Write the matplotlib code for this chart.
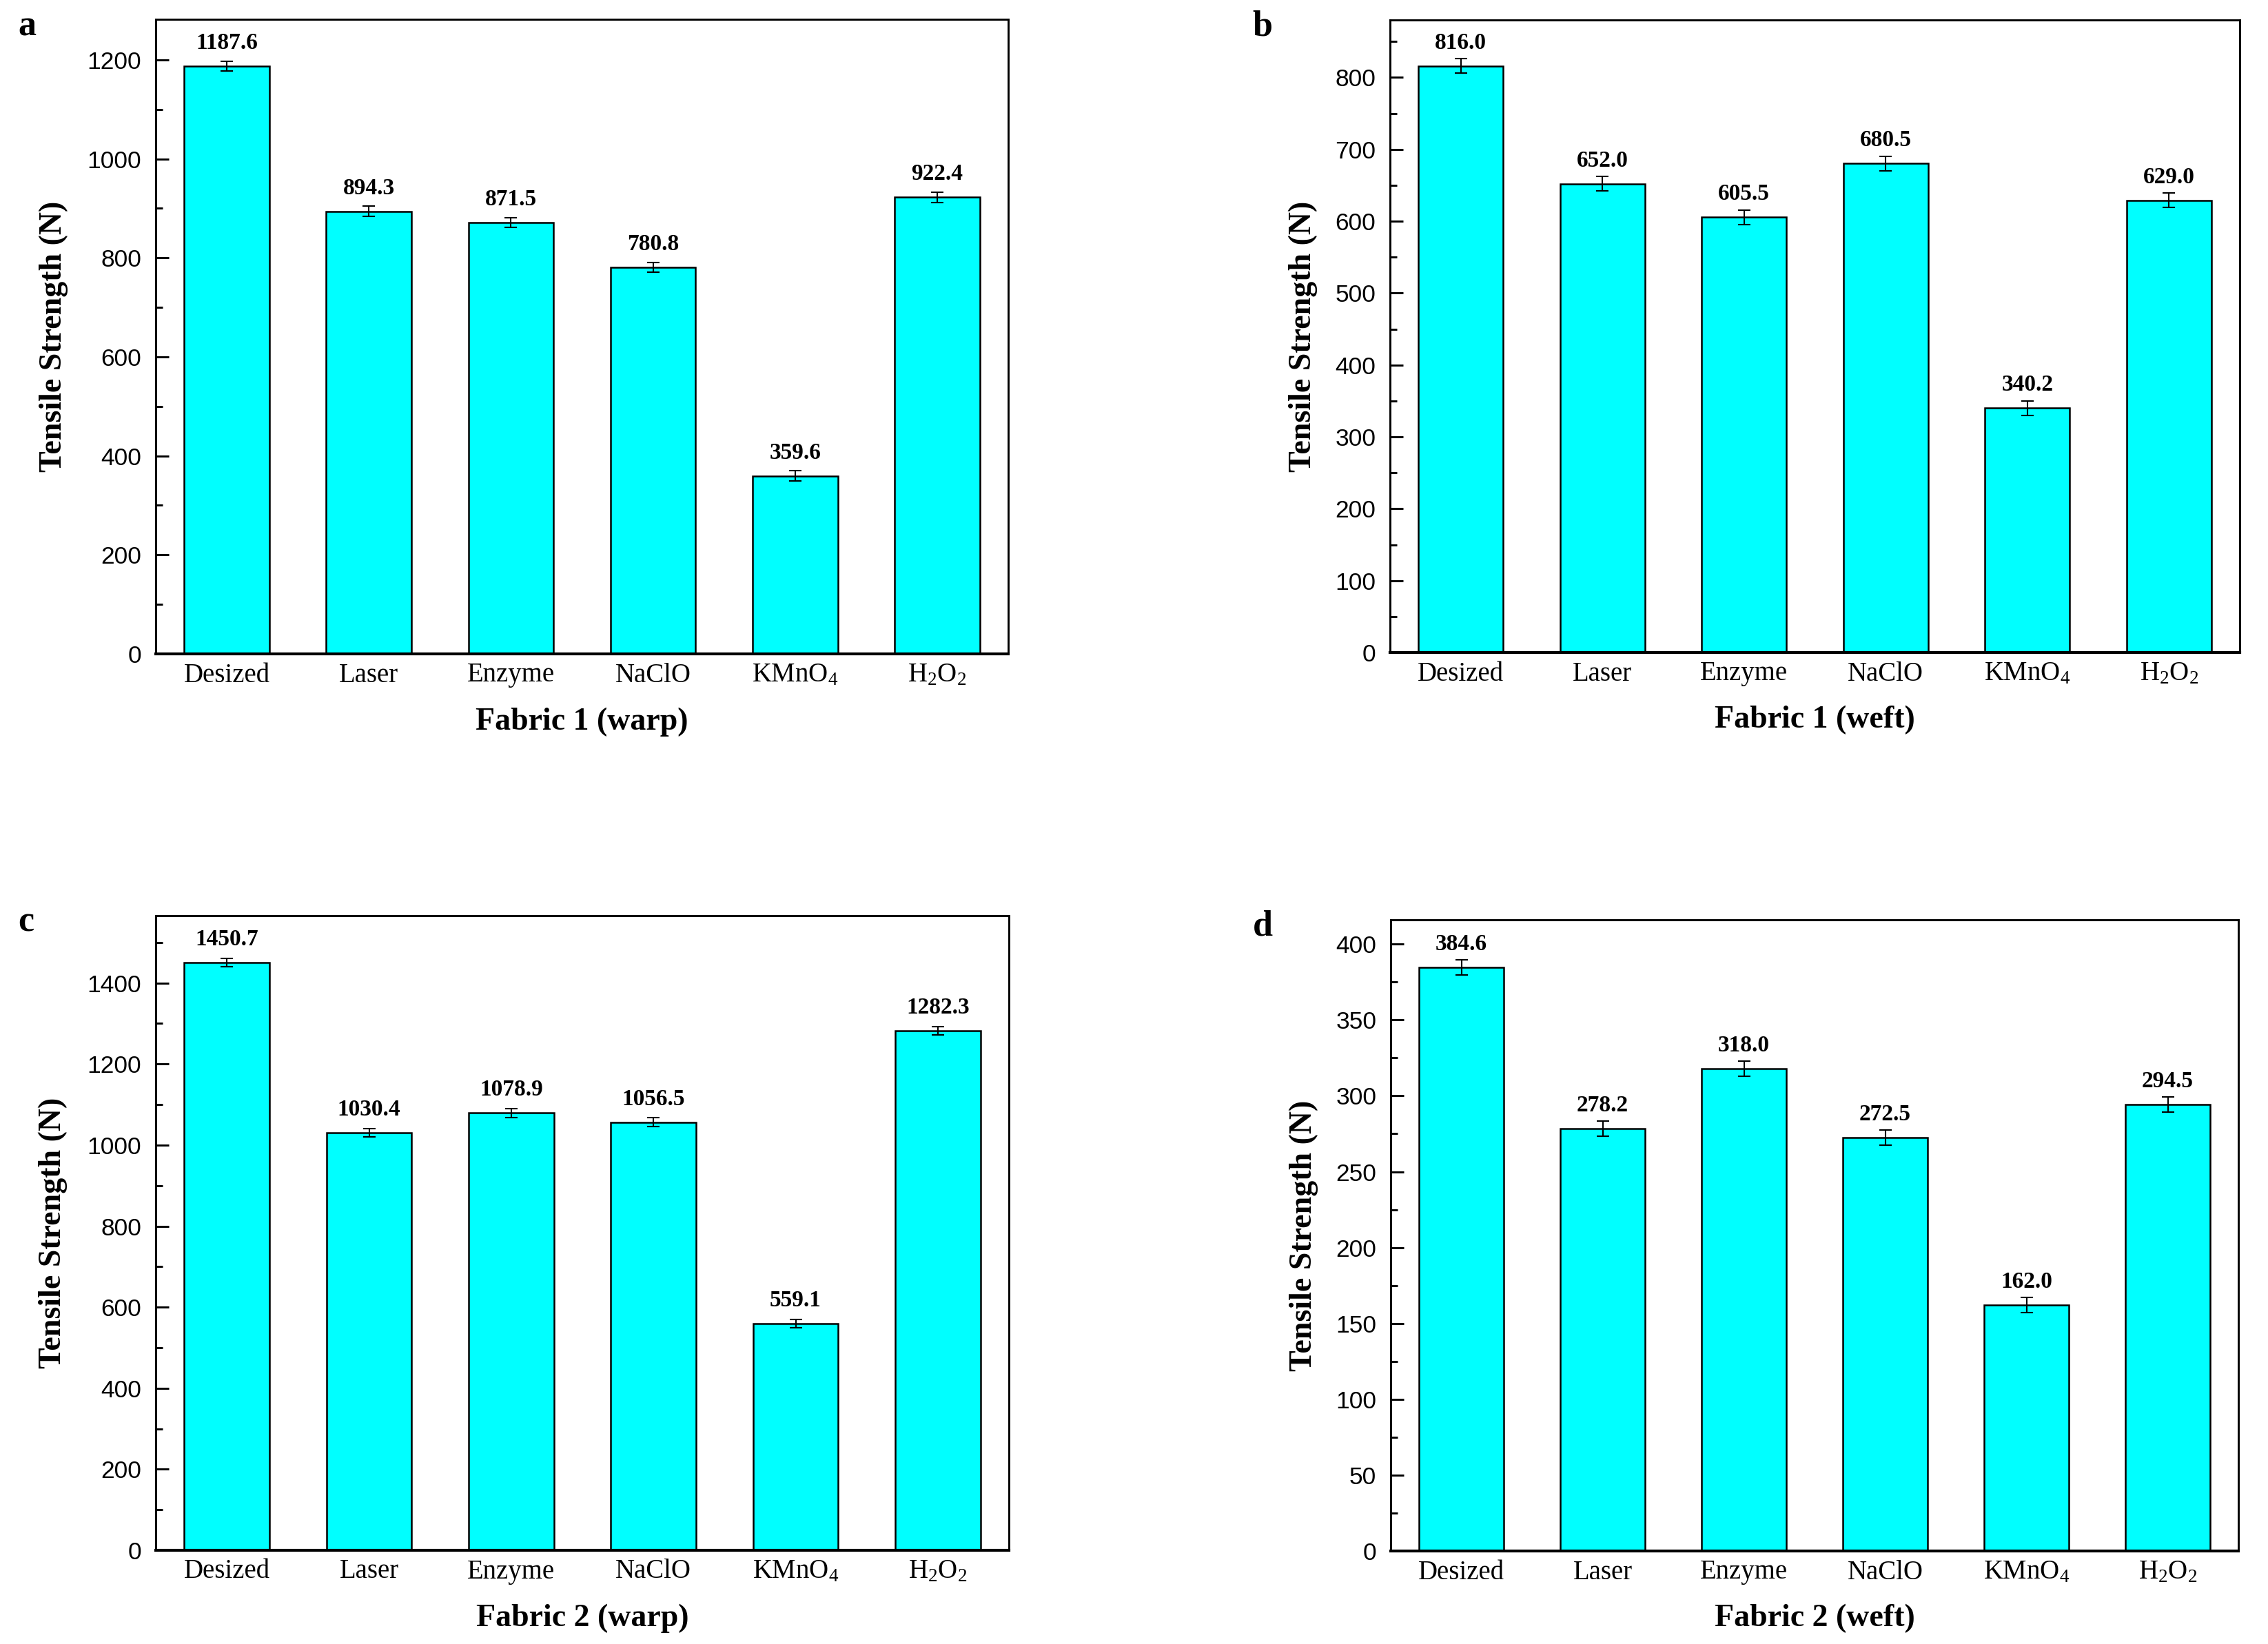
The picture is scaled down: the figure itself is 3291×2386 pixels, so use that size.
import matplotlib
matplotlib.use('Agg')
import matplotlib.pyplot as plt
from matplotlib.ticker import MultipleLocator

plt.rcParams['font.family'] = 'Liberation Serif'
plt.rcParams['mathtext.fontset'] = 'custom'
plt.rcParams['mathtext.rm'] = 'Liberation Serif'
plt.rcParams['mathtext.it'] = 'Liberation Serif:italic'
plt.rcParams['mathtext.bf'] = 'Liberation Serif:bold'

# treatments on the x axis
categories = ['Desized', 'Laser', 'Enzyme', 'NaClO', 'KMnO$_4$', 'H$_2$O$_2$']

# tensile strength (N) and error bars, one list per panel
f1_warp = [1187.6, 894.3, 871.5, 780.8, 359.6, 922.4]
f1_warp_err = [10, 10, 10, 10, 10, 10]
f1_weft = [816.0, 652.0, 605.5, 680.5, 340.2, 629.0]
f1_weft_err = [10, 10, 10, 10, 10, 10]
f2_warp = [1450.7, 1030.4, 1078.9, 1056.5, 559.1, 1282.3]
f2_warp_err = [10.5, 10.5, 10.5, 10.5, 10.5, 10.5]
f2_weft = [384.6, 278.2, 318.0, 272.5, 162.0, 294.5]
f2_weft_err = [5, 5, 5, 5, 5, 5]

W, H = 3291, 2386
fig = plt.figure(figsize=(W / 300, H / 300), dpi=300)

# (values, errors, xlabel, letter, ylim top, major, minor, axes box in px, ylabel x)
panels = [
    (f1_warp, f1_warp_err, 'Fabric 1 (warp)', 'a', 1282, 200, 100, (226, 1463, 28, 949), -0.103),
    (f1_weft, f1_weft_err, 'Fabric 1 (weft)', 'b', 880, 100, 50, (2017, 3250, 29, 947), -0.085),
    (f2_warp, f2_warp_err, 'Fabric 2 (warp)', 'c', 1566, 200, 100, (226, 1464, 1329, 2250), -0.103),
    (f2_weft, f2_weft_err, 'Fabric 2 (weft)', 'd', 416, 50, 25, (2018, 3248, 1335, 2251), -0.085),
]

for vals, errs, xlab, letter, ytop, major, minor, box, ylx in panels:
    l, r, t, b = box
    ax = fig.add_axes([l / W, 1 - b / H, (r - l) / W, (b - t) / H])
    x = list(range(len(categories)))
    ax.bar(x, vals, width=0.6, color='#00FFFF', edgecolor='black', linewidth=0.6,
           yerr=errs, error_kw=dict(ecolor='black', elinewidth=0.5, capsize=2.2, capthick=0.5))
    for xi, v in zip(x, vals):
        ax.annotate('%.1f' % v, (xi, v), xytext=(0, 6), textcoords='offset points',
                    ha='center', va='baseline', fontsize=8, fontweight='bold')
    ax.set_xlim(-0.5, 5.5)
    ax.set_ylim(0, ytop)
    ax.set_xticks(x)
    ax.set_xticklabels(categories, fontsize=9.3)
    ax.yaxis.set_major_locator(MultipleLocator(major))
    ax.yaxis.set_minor_locator(MultipleLocator(minor))
    ax.tick_params(axis='x', length=0, pad=3)
    ax.tick_params(axis='y', which='major', direction='in', length=4.6, width=0.7, pad=5,
                   labelsize=8.5)
    ax.tick_params(axis='y', which='minor', direction='in', length=2.4, width=0.7)
    for lab in ax.get_yticklabels():
        lab.set_fontfamily('Liberation Sans')
    for s in ['left', 'right', 'top']:
        ax.spines[s].set_linewidth(0.7)
    ax.spines['bottom'].set_linewidth(1.0)
    ax.set_ylabel('Tensile Strength (N)', fontsize=11, fontweight='bold')
    ax.yaxis.set_label_coords(ylx, 0.5)
    ax.set_xlabel(xlab, fontsize=11, fontweight='bold', va='center')
    ax.xaxis.set_label_coords(0.5, -0.107)
    ax.text((l - 200) / W, 1 - (t + 10) / H, letter, transform=fig.transFigure,
            fontsize=12.5, fontweight='bold', ha='left', va='center')

fig.savefig('out.png', dpi=300)
